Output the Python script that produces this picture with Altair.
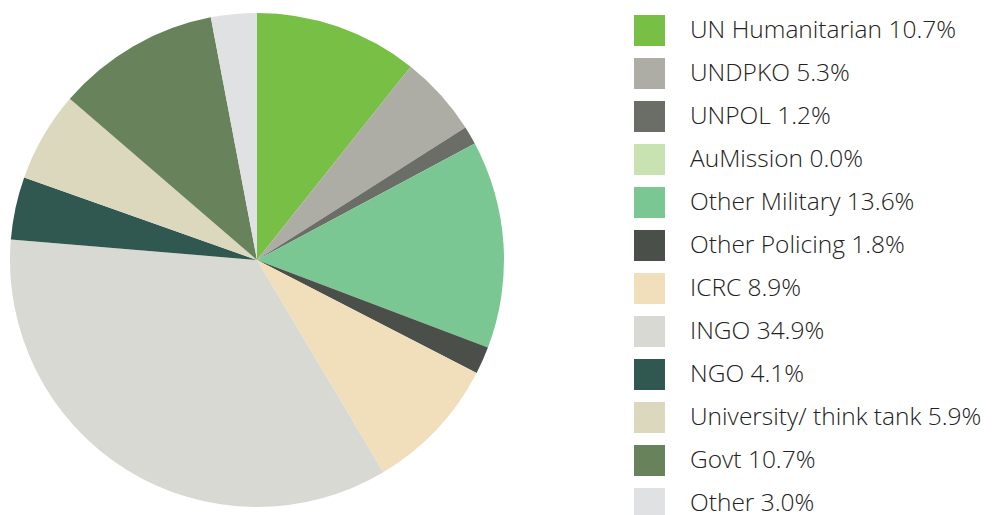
import altair as alt
import pandas as pd

categories = ["UN Humanitarian", "UNDPKO", "UNPOL", "AuMission", "Other Military",
              "Other Policing", "ICRC", "INGO", "NGO", "University/ think tank",
              "Govt", "Other"]
shares = [10.7, 5.3, 1.2, 0.0, 13.6, 1.8, 8.9, 34.9, 4.1, 5.9, 10.7, 3.0]
colors = ["#77BF45", "#ADADA6", "#6B6D67", "#C8E2B1", "#7BC793", "#4A5049",
          "#F0DFBA", "#D9D9D4", "#305850", "#DBD8BE", "#68825B", "#E0E1E3"]

labels = [f"{c} {s:.1f}%" for c, s in zip(categories, shares)]
df = pd.DataFrame({"label": labels, "share": shares, "order": list(range(len(labels)))})

chart = alt.Chart(df).mark_arc(stroke=None, radius=247).encode(
    x=alt.value(249),
    y=alt.value(252),
    theta=alt.Theta("share:Q", stack=True),
    order=alt.Order("order:Q"),
    color=alt.Color(
        "label:N",
        scale=alt.Scale(domain=labels, range=colors),
        sort=labels,
        legend=alt.Legend(
            title=None,
            orient="none",
            legendX=626,
            legendY=7,
            symbolType="square",
            symbolSize=961,
            symbolStrokeWidth=0,
            labelFont="Open Sans",
            labelFontWeight=300,
            labelFontSize=24.5,
            labelColor="#222222",
            labelOffset=25,
            rowPadding=12,
            labelLimit=400,
        ),
    ),
).properties(
    width=977, height=507, padding=0, autosize=alt.AutoSizeParams(type="none")
).configure_view(stroke=None)

chart.save("out.html", embed_options={"renderer": "svg", "actions": False})
